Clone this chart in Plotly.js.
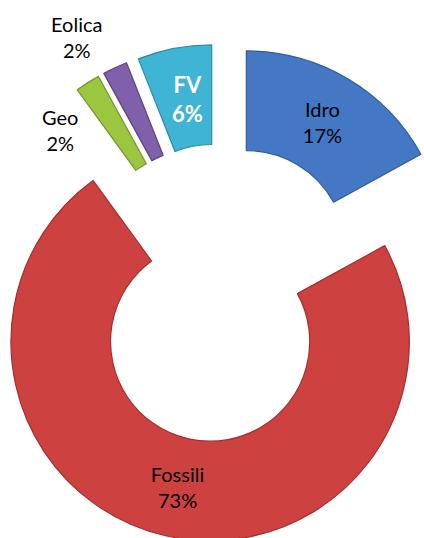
<!DOCTYPE html>
<html>
<head>
<meta charset="utf-8">
<script src="https://cdn.plot.ly/plotly-3.0.1.min.js"></script>
<style>
html, body { margin: 0; padding: 0; width: 424px; height: 538px; overflow: hidden; background: #fff; }
#chart { position: absolute; left: -28px; top: 0px; width: 498px; height: 586px; }
</style>
</head>
<body>
<div id="chart"></div>
<script>
const labels = ['Idro', 'Fossili', 'Geo', 'Eolica', 'FV'];
const values = [17, 73, 2, 2, 6];
const colors = ['#4478c4', '#cd4240', '#9ac640', '#8060aa', '#40b4d4'];
const edgeColors = ['#2f5c9c', '#a32f2d', '#73972c', '#5e4384', '#2c8aa6'];
// slices labelled by the pie itself vs. by a placed annotation
const textPositions = ['inside', 'inside', 'none', 'none', 'none'];
const FONT = 'Lato, Carlito, sans-serif';

const trace = {
  type: 'pie',
  labels: labels,
  values: values,
  sort: false,
  direction: 'clockwise',
  rotation: 0,
  hole: 0.5,
  pull: [0.25, 0.25, 0.25, 0.25, 0.25],
  marker: { colors: colors, line: { color: edgeColors, width: 1.2 } },
  texttemplate: '%{label}<br>%{percent:.0%}',
  textposition: textPositions,
  insidetextorientation: 'horizontal',
  textfont: { family: FONT, size: 20, color: '#000000' },
  hoverinfo: 'none',
  showlegend: false,
  domain: { x: [0, 1], y: [0, 1] }
};

// label placements (paper coords) for the small slices
const labelSpots = {
  'Geo':    { x: 0.1767, y: 0.779, color: '#000000', bold: false, size: 20 },
  'Eolica': { x: 0.2108, y: 0.937, color: '#000000', bold: false, size: 20 },
  'FV':     { x: 0.4337, y: 0.831, color: '#ffffff', bold: true,  size: 22 }
};

const annotations = labels.map((lab, i) => {
  const s = labelSpots[lab];
  if (!s) return null;
  let t = lab + '<br>' + values[i] + '%';
  if (s.bold) t = '<b>' + t + '</b>';
  return {
    xref: 'paper', yref: 'paper', x: s.x, y: s.y,
    xanchor: 'center', yanchor: 'middle',
    text: t, showarrow: false, align: 'center',
    font: { family: FONT, size: s.size, color: s.color }
  };
}).filter(a => a);

const layout = {
  width: 498,
  height: 586,
  margin: { l: 0, r: 0, t: 0, b: 0 },
  paper_bgcolor: 'rgba(0,0,0,0)',
  plot_bgcolor: 'rgba(0,0,0,0)',
  showlegend: false,
  annotations: annotations
};

Plotly.newPlot('chart', [trace], layout, { staticPlot: true, displayModeBar: false });
</script>
</body>
</html>
